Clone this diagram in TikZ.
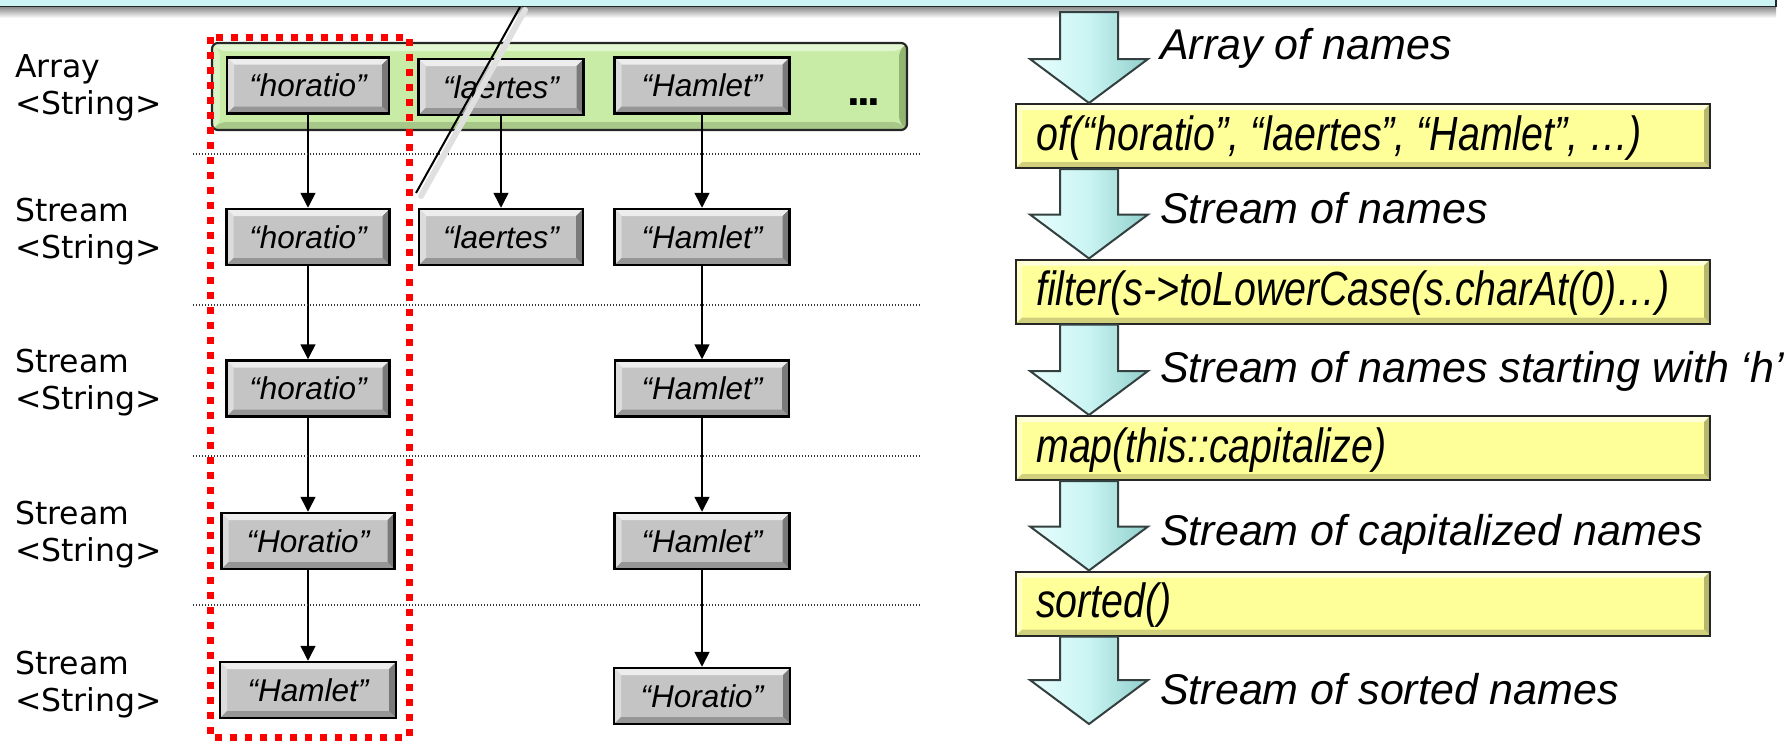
\documentclass[tikz,border=0pt]{standalone}
\usepackage{fontspec}
\usetikzlibrary{arrows.meta,calc}

\newfontfamily\rowfont{DejaVu Sans}
\newfontfamily\itemfont{Liberation Sans}
\newfontfamily\opfont[FakeStretch=0.82]{Liberation Sans}

\definecolor{barcyan}{HTML}{CCF4F4}
\definecolor{elemface}{HTML}{C4C4C4}
\definecolor{elemtop}{HTML}{EDEDED}
\definecolor{elemleft}{HTML}{DCDCDC}
\definecolor{elemright}{HTML}{7A7A7A}
\definecolor{elembottom}{HTML}{969696}
\definecolor{opface}{HTML}{FFFF99}
\definecolor{optop}{HTML}{FFFFDA}
\definecolor{opleft}{HTML}{FFFFC6}
\definecolor{opright}{HTML}{B6B66C}
\definecolor{opbottom}{HTML}{D0D07C}
\definecolor{grface}{HTML}{C8EBA6}
\definecolor{grtop}{HTML}{E3F6D2}
\definecolor{grleft}{HTML}{D9F1C3}
\definecolor{grright}{HTML}{92B574}
\definecolor{grbottom}{HTML}{A8C88A}
\definecolor{arrface}{HTML}{C9F4F2}
\definecolor{arrlight}{HTML}{E8FFFE}
\definecolor{arrdark}{HTML}{8FCFCB}
\definecolor{arredge}{HTML}{34403F}
\definecolor{markred}{HTML}{FF0000}

% bevelled face: top, left, right, bottom colours and bevel width
\newcommand\bevelpic[5]{%
  \coordinate (bvA) at (path picture bounding box.north west);
  \coordinate (bvC) at (path picture bounding box.south east);
  \coordinate (bvB) at (bvA -| bvC);
  \coordinate (bvD) at (bvA |- bvC);
  \fill[#1] (bvA) -- (bvB) -- ([shift={(-#5,-#5)}]bvB) -- ([shift={(#5,-#5)}]bvA) -- cycle;
  \fill[#2] (bvA) -- ([shift={(#5,-#5)}]bvA) -- ([shift={(#5,#5)}]bvD) -- (bvD) -- cycle;
  \fill[#3] (bvB) -- (bvC) -- ([shift={(-#5,#5)}]bvC) -- ([shift={(-#5,-#5)}]bvB) -- cycle;
  \fill[#4] (bvD) -- (bvC) -- ([shift={(-#5,#5)}]bvC) -- ([shift={(#5,#5)}]bvD) -- cycle;
}

% block arrow of the pipeline, from #1 (top of shaft) to #2 (tip)
\newcommand\blockarrow[2]{%
  \draw[flowarrow] let \p1=(#1), \p2=(#2) in
    (\x1-29pt,\y1) -- (\x1+29pt,\y1) -- (\x1+29pt,\y2+44pt) -- (\x1+59pt,\y2+44pt)
    -- (\x1,\y2) -- (\x1-59pt,\y2+44pt) -- (\x1-29pt,\y2+44pt) -- cycle;}

\tikzset{
  strbox/.style={draw=black, line width=2.5pt, fill=elemface, minimum width=#1,
    minimum height=56pt, inner sep=0pt,
    font=\itemfont\itshape\fontsize{31.5}{36}\selectfont,
    path picture={\bevelpic{elemtop}{elemleft}{elemright}{elembottom}{7pt}}},
  strbox/.default=163pt,
  arraybox/.style={draw=black!85, line width=2.2pt, fill=grface, rounded corners=6pt,
    minimum width=695pt, minimum height=87pt, inner sep=0pt,
    path picture={\bevelpic{grtop}{grleft}{grright}{grbottom}{8pt}}},
  opbox/.style={draw=black!85, line width=2pt, fill=opface, minimum width=694pt,
    minimum height=64pt, inner sep=0pt,
    path picture={\bevelpic{optop}{opleft}{opright}{opbottom}{6pt}}},
  optext/.style={anchor=base west, inner sep=0pt, font=\opfont\itshape\fontsize{48}{56}\selectfont},
  flowlabel/.style={anchor=base west, inner sep=0pt, font=\itemfont\itshape\fontsize{43}{50}\selectfont},
  rowlabel/.style={anchor=west, align=left, inner sep=0pt, font=\rowfont\fontsize{31.5}{37}\selectfont},
  link/.style={line width=1.6pt, -{Triangle[width=15pt,length=15pt]}},
  sepline/.style={line width=1.3pt, dash pattern=on 1.3pt off 1.7pt, black!80},
  focus/.style={draw=markred, line width=7pt, dash pattern=on 7pt off 8pt},
  flowarrow/.style={draw=arredge, line width=2pt, line join=miter,
    left color=arrlight, right color=arrdark, middle color=arrface},
}

\begin{document}
\begin{tikzpicture}[x=1pt, y=-1pt]
\useasboundingbox (0,0) rectangle (1787,744);

% title bar edge with its shadow
\shade[top color=black!45, bottom color=white] (-2,7) rectangle (1776,18);
\fill[barcyan] (-2,-2) rectangle (1776,6.5);
\draw[line width=1.6pt, black!85] (-2,6.5) -- (1776,6.5) -- (1776,-2);

% row labels
\node[rowlabel] (lab1) at (15,88)  {Array\\<String>};
\node[rowlabel] (lab2) at (15,232) {Stream\\<String>};
\node[rowlabel] (lab3) at (15,383) {Stream\\<String>};
\node[rowlabel] (lab4) at (15,535) {Stream\\<String>};
\node[rowlabel] (lab5) at (15,685) {Stream\\<String>};

% the array
\node[arraybox] (arr) at (559.5,86.5) {};
\node[anchor=base, inner sep=0pt, font=\itemfont\bfseries\fontsize{46}{50}\selectfont] (more) at (864,105) {.\kern-3pt.\kern-3pt.};

% stream elements
\node[strbox=162pt] (e11) at (308,85.5) {“horatio”};
\node[strbox=165pt] (e12) at (501,87)   {“laertes”};
\node[strbox=175pt] (e13) at (702,85.5) {“Hamlet”};

\node[strbox=163pt] (e21) at (308,237) {“horatio”};
\node[strbox=164pt] (e22) at (501,237) {“laertes”};
\node[strbox=175pt] (e23) at (702,237) {“Hamlet”};

\node[strbox=163pt] (e31) at (308,388.5) {“horatio”};
\node[strbox=174pt] (e33) at (702,388.5) {“Hamlet”};

\node[strbox=173pt] (e41) at (308,541) {“Horatio”};
\node[strbox=175pt] (e43) at (702,541) {“Hamlet”};

\node[strbox=176pt] (e51) at (308,690) {“Hamlet”};
\node[strbox=176pt] (e53) at (702,696) {“Horatio”};

% element flow
\draw[link] (e11.south) -- (e21.north);
\draw[link] (e21.south) -- (e31.north);
\draw[link] (e31.south) -- (e41.north);
\draw[link] (e41.south) -- (e51.north);
\draw[link] (e12.south) -- (e22.north);
\draw[link] (e13.south) -- (e23.north);
\draw[link] (e23.south) -- (e33.north);
\draw[link] (e33.south) -- (e43.north);
\draw[link] (e43.south) -- (e53.north);

% stage separators
\foreach \yy in {154,305,456,605}
  \draw[sepline] (193,\yy) -- (921,\yy);

% callout line with its shadow
\coordinate (calloutA) at (520,7);
\coordinate (calloutB) at (416,193);
\draw[line width=6pt, black!12, line cap=round] ($(calloutA)+(5,3)$) -- ($(calloutB)+(5,3)$);
\draw[line width=2pt] (calloutA) -- (calloutB);

% highlighted column
\draw[focus] (210,37) rectangle (409,737);

% pipeline
\node[opbox] (s1) at (1363,136)   {};
\node[opbox] (s2) at (1363,291.5) {};
\node[opbox] (s3) at (1363,448)   {};
\node[opbox] (s4) at (1363,603.5) {};

\node[optext] (s1t) at ($(s1.north west)+(21,47)$) {of(“horatio”, “laertes”, “Hamlet”, …)};
\node[optext] (s2t) at ($(s2.north west)+(21,47)$) {filter(s->toLowerCase(s.charAt(0)…)};
\node[optext] (s3t) at ($(s3.north west)+(21,47)$) {map(this::capitalize)};
\node[optext] (s4t) at ($(s4.north west)+(21,47)$) {sorted()};

\coordinate (axis) at (1089,0);
\coordinate (flowstart) at (1089,12);
\coordinate (flowend) at (1089,724);
\blockarrow{flowstart}{axis |- s1.north}
\blockarrow{axis |- s1.south}{axis |- s2.north}
\blockarrow{axis |- s2.south}{axis |- s3.north}
\blockarrow{axis |- s3.south}{axis |- s4.north}
\blockarrow{axis |- s4.south}{flowend}

\node[flowlabel] (f1) at (1160,59)  {Array of names};
\node[flowlabel] (f2) at (1160,223) {Stream of names};
\node[flowlabel] (f3) at (1160,382) {Stream of names starting with ‘h’};
\node[flowlabel] (f4) at (1160,545) {Stream of capitalized names};
\node[flowlabel] (f5) at (1160,704) {Stream of sorted names};
\end{tikzpicture}
\end{document}
